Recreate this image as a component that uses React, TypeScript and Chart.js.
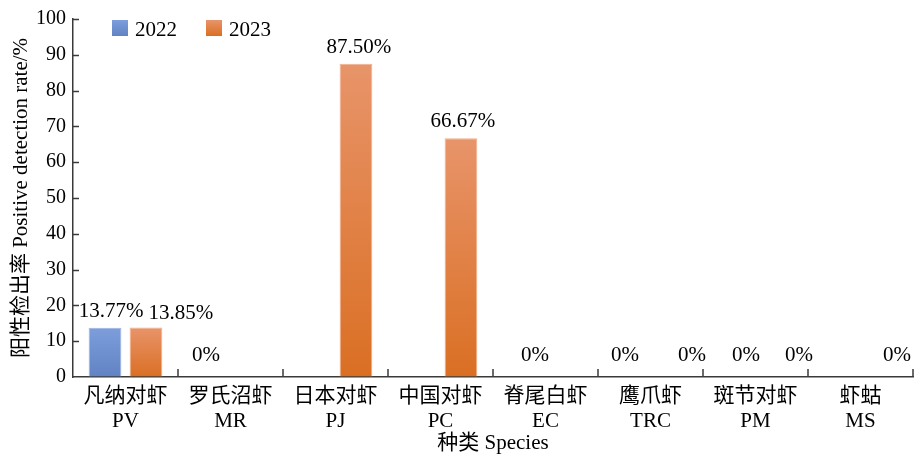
import React, { useEffect, useRef } from "react";
import { Chart, registerables } from "chart.js";

Chart.register(...registerables);

const categories: string[][] = [
  ["凡纳对虾", "PV"],
  ["罗氏沼虾", "MR"],
  ["日本对虾", "PJ"],
  ["中国对虾", "PC"],
  ["脊尾白虾", "EC"],
  ["鹰爪虾", "TRC"],
  ["斑节对虾", "PM"],
  ["虾蛄", "MS"],
];
const seriesNames = ["2022", "2023"];
const values2022: (number | null)[] = [13.77, 0, null, null, 0, 0, 0, null];
const values2023: (number | null)[] = [13.85, null, 87.5, 66.67, null, 0, 0, 0];
const yTicks = { min: 0, max: 100, step: 10 };

const SERIF = '"Liberation Serif", "Times New Roman", "Noto Sans CJK SC", serif';

// label nudges (pixels) for the value labels, per series
const labelNudge = [
  [6, -4, 0, 0, 10, -5, 11, 0],
  [35, 0, 3, 2, 0, 21, 23, 16],
];
const labelLift = [
  [11, 16, 11, 11, 16, 16, 16, 16],
  [8, 16, 11, 11, 16, 16, 16, 16],
];

const gradStops = [
  ["#7d9edb", "#6183c4"],
  ["#e8946a", "#da6f23"],
];

function makeGrad(ctx: CanvasRenderingContext2D, top: number, bottom: number, i: number) {
  const g = ctx.createLinearGradient(0, top, 0, bottom);
  g.addColorStop(0, gradStops[i][0]);
  g.addColorStop(1, gradStops[i][1]);
  return g;
}

const extrasPlugin = {
  id: "extras",
  afterDatasetsDraw(chart: any) {
    const ctx: CanvasRenderingContext2D = chart.ctx;
    const { left, right, top, bottom } = chart.chartArea;
    ctx.save();
    // inward tick marks
    ctx.strokeStyle = "#3a3a3a";
    ctx.lineWidth = 1.5;
    const ys = chart.scales.y;
    for (let v = yTicks.min + yTicks.step; v <= yTicks.max; v += yTicks.step) {
      const y = Math.round(ys.getPixelForValue(v)) + 0.5;
      ctx.beginPath();
      ctx.moveTo(left, y);
      ctx.lineTo(left + 6, y);
      ctx.stroke();
    }
    const n = categories.length;
    const w = (right - left) / n;
    for (let i = 1; i <= n; i++) {
      const x = left + i * w;
      ctx.beginPath();
      ctx.moveTo(x, bottom);
      ctx.lineTo(x, bottom - 8);
      ctx.stroke();
    }
    // value labels
    ctx.fillStyle = "#000";
    ctx.font = `21px ${SERIF}`;
    ctx.textAlign = "center";
    ctx.textBaseline = "alphabetic";
    chart.data.datasets.forEach((ds: any, di: number) => {
      const meta = chart.getDatasetMeta(di);
      ds.data.forEach((v: number | null, i: number) => {
        if (v === null || v === undefined) return;
        const el = meta.data[i];
        const txt = v === 0 ? "0%" : v.toFixed(2) + "%";
        ctx.fillText(txt, el.x + labelNudge[di][i], el.y - labelLift[di][i]);
      });
    });
    // legend
    const lx = [112, 206];
    seriesNames.forEach((name, i) => {
      ctx.fillStyle = makeGrad(ctx, 20, 36, i);
      ctx.fillRect(lx[i], 20, 16, 16);
      ctx.fillStyle = "#000";
      ctx.textAlign = "left";
      ctx.fillText(name, lx[i] + 23, 36);
    });
    ctx.restore();
  },
};

export default function App() {
  const ref = useRef<HTMLCanvasElement>(null);
  useEffect(() => {
    if (!ref.current) return;
    const bg = (i: number) => (c: any) => {
      const chart = c.chart;
      const ys = chart.scales?.y;
      const v = c.raw;
      if (!ys || v === null || v === undefined || !chart.ctx) return gradStops[i][1];
      const top = ys.getPixelForValue(v);
      const bottom = ys.getPixelForValue(0);
      if (!isFinite(top) || !isFinite(bottom) || bottom - top < 1) return gradStops[i][1];
      return makeGrad(chart.ctx, top, bottom, i);
    };
    const chart = new Chart(ref.current, {
      type: "bar",
      data: {
        labels: categories,
        datasets: [
          {
            label: seriesNames[0],
            data: values2022,
            backgroundColor: bg(0),
            borderColor: "#9ab3e6",
            borderWidth: { top: 1, left: 1, right: 1, bottom: 0 },
            categoryPercentage: 0.78,
            barPercentage: 0.8,
          },
          {
            label: seriesNames[1],
            data: values2023,
            backgroundColor: bg(1),
            borderColor: "#f0b08c",
            borderWidth: { top: 1, left: 1, right: 1, bottom: 0 },
            categoryPercentage: 0.78,
            barPercentage: 0.8,
          },
        ],
      },
      options: {
        responsive: false,
        animation: false,
        layout: { padding: { top: 17, right: 1, left: 0, bottom: 0 } },
        plugins: {
          legend: { display: false },
          tooltip: { enabled: false },
        },
        scales: {
          x: {
            grid: { display: true, drawOnChartArea: false, drawTicks: false },
            border: { display: true, color: "#3a3a3a", width: 1.5 },
            ticks: {
              color: "#000",
              font: { family: SERIF, size: 21, lineHeight: 1.2 },
              padding: 7,
              maxRotation: 0,
              autoSkip: false,
            },
            title: {
              display: true,
              text: "种类 Species",
              color: "#000",
              font: { family: SERIF, size: 21 },
              padding: { top: 0, bottom: 1 },
            },
            afterFit: (s: any) => {
              s.height = 80;
            },
          },
          y: {
            min: yTicks.min,
            max: yTicks.max,
            grid: { display: true, drawOnChartArea: false, drawTicks: false },
            border: { display: true, color: "#3a3a3a", width: 1.5 },
            ticks: {
              stepSize: yTicks.step,
              color: "#000",
              font: { family: SERIF, size: 20 },
              padding: 7,
            },
            title: {
              display: true,
              text: "阳性检出率 Positive detection rate/%",
              color: "#000",
              font: { family: SERIF, size: 21 },
              padding: { top: 9, bottom: 0 },
            },
            afterFit: (s: any) => {
              s.width = 73;
            },
          },
        },
      },
      plugins: [extrasPlugin],
    });
    return () => chart.destroy();
  }, []);
  return (
    <div style={{ position: "absolute", left: 0, top: 0, width: 914, height: 457, background: "#fff" }}>
      <canvas ref={ref} width={914} height={457} style={{ display: "block" }} />
    </div>
  );
}
